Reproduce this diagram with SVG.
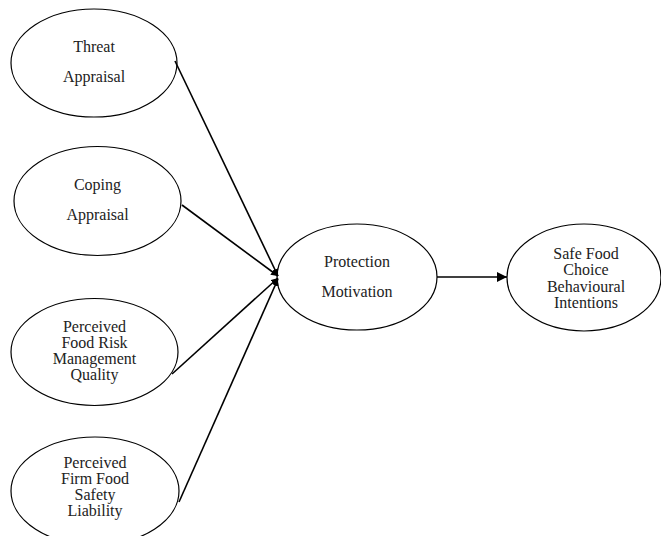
<svg xmlns="http://www.w3.org/2000/svg" width="661" height="536" viewBox="0 0 661 536">
<defs>
<style>
.node ellipse{fill:#fff;stroke:#000;stroke-width:1.2}
text{font-family:"Liberation Serif","Times New Roman",serif;font-size:16px;fill:#222;text-anchor:middle}
.conn line{stroke:#000;stroke-width:1.6}
</style>
<marker id="ah" viewBox="0 0 10 10" refX="10" refY="5" markerWidth="7" markerHeight="7" markerUnits="userSpaceOnUse" orient="auto">
<path d="M0,0 L10,5 L0,10 z" fill="#000"/>
</marker>
<marker id="ah2" viewBox="0 0 10 10" refX="10" refY="5" markerWidth="12" markerHeight="10" markerUnits="userSpaceOnUse" orient="auto">
<path d="M0,0 L10,5 L0,10 z" fill="#000"/>
</marker>
</defs>
<rect width="661" height="536" fill="#fff"/>
<g id="threat" class="node">
<ellipse cx="94" cy="63" rx="83" ry="54"/>
<text x="94" y="52">Threat</text>
<text x="94" y="82">Appraisal</text>
</g>
<g id="coping" class="node">
<ellipse cx="97.5" cy="201" rx="83.5" ry="54.5"/>
<text x="97.5" y="190">Coping</text>
<text x="97.5" y="220">Appraisal</text>
</g>
<g id="foodrisk" class="node">
<ellipse cx="94.5" cy="352" rx="83.5" ry="53.5"/>
<text x="94.5" y="332">Perceived</text>
<text x="94.5" y="348">Food Risk</text>
<text x="94.5" y="364">Management</text>
<text x="94.5" y="380">Quality</text>
</g>
<g id="firm" class="node">
<ellipse cx="95" cy="491" rx="84" ry="54"/>
<text x="95" y="468">Perceived</text>
<text x="95" y="484">Firm Food</text>
<text x="95" y="500">Safety</text>
<text x="95" y="516">Liability</text>
</g>
<g id="protection" class="node">
<ellipse cx="357" cy="277" rx="80" ry="53"/>
<text x="357" y="267">Protection</text>
<text x="357" y="297">Motivation</text>
</g>
<g id="safefood" class="node">
<ellipse cx="584" cy="277.5" rx="77" ry="53.5"/>
<text x="586" y="259">Safe Food</text>
<text x="586" y="275">Choice</text>
<text x="586" y="292">Behavioural</text>
<text x="586" y="308">Intentions</text>
</g>
<g id="connectors" class="conn">
<line x1="175" y1="61" x2="278" y2="276" marker-end="url(#ah)"/>
<line x1="182" y1="205" x2="278" y2="276" marker-end="url(#ah)"/>
<line x1="172" y1="374" x2="278" y2="278" marker-end="url(#ah)"/>
<line x1="179" y1="502" x2="278" y2="279" marker-end="url(#ah)"/>
<line x1="437" y1="277" x2="507" y2="277" marker-end="url(#ah2)"/>
</g>
</svg>
